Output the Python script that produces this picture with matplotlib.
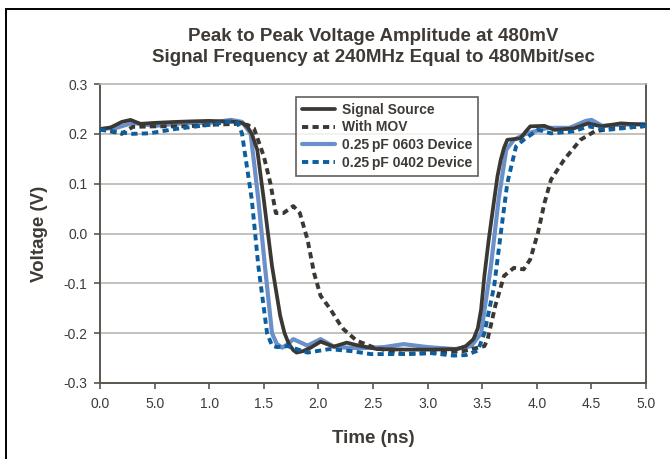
import matplotlib
matplotlib.use("Agg")
import matplotlib.pyplot as plt
from matplotlib.patches import Rectangle

plt.rcParams['font.family'] = ['Liberation Sans', 'DejaVu Sans']

# ---- data ----
src_t = [0.0, 0.1, 0.2, 0.28, 0.37, 0.5, 0.7, 0.83, 1.0, 1.25, 1.31, 1.35, 1.39, 1.44, 1.50, 1.575, 1.65, 1.69,
         1.73, 1.77, 1.80, 1.86, 1.93, 2.02, 2.14, 2.26, 2.35, 2.54, 2.8, 3.03, 3.27, 3.35, 3.42, 3.46, 3.49,
         3.52, 3.56, 3.61, 3.64, 3.67, 3.70, 3.73, 3.85, 3.90, 3.94, 4.07, 4.16, 4.34, 4.47, 4.59, 4.77, 5.0]
src_v = [0.209, 0.213, 0.224, 0.228, 0.220, 0.222, 0.224, 0.225, 0.226, 0.224, 0.221, 0.214, 0.200, 0.168, 0.068,
         -0.065, -0.165, -0.200, -0.222, -0.234, -0.239, -0.236, -0.229, -0.217, -0.227, -0.219, -0.224, -0.232,
         -0.233, -0.233, -0.232, -0.226, -0.212, -0.190, -0.152, -0.085, -0.012, 0.068, 0.115, 0.148, 0.172,
         0.188, 0.191, 0.205, 0.215, 0.216, 0.208, 0.211, 0.221, 0.215, 0.221, 0.218]

mov_t = [0.0, 0.1, 0.2, 0.30, 0.5, 0.8, 1.0, 1.25, 1.35, 1.41, 1.50, 1.56, 1.61, 1.68, 1.77, 1.83, 1.90, 1.96,
         2.02, 2.11, 2.19, 2.23, 2.35, 2.51, 2.78, 3.03, 3.33, 3.52, 3.55, 3.62, 3.70, 3.79, 3.88, 3.94, 4.01,
         4.07, 4.13, 4.25, 4.40, 4.53, 4.71, 4.98]
mov_v = [0.210, 0.205, 0.200, 0.214, 0.215, 0.215, 0.218, 0.220, 0.218, 0.211, 0.155, 0.101, 0.041, 0.041, 0.055,
         0.041, -0.012, -0.079, -0.125, -0.152, -0.180, -0.192, -0.215, -0.229, -0.242, -0.240, -0.236, -0.226,
         -0.212, -0.145, -0.085, -0.069, -0.072, -0.052, 0.001, 0.061, 0.108, 0.148, 0.188, 0.205, 0.211, 0.215]

d0603_t = [0.0, 0.15, 0.3, 0.5, 0.8, 1.0, 1.2, 1.30, 1.38, 1.45, 1.51, 1.575, 1.62, 1.67, 1.72, 1.77, 1.90, 2.02,
           2.15, 2.4, 2.6, 2.78, 3.0, 3.25, 3.40, 3.49, 3.58, 3.65, 3.72, 3.79, 3.90, 4.1, 4.3, 4.45, 4.5, 4.6,
           4.75, 5.0]
d0603_v = [0.210, 0.212, 0.222, 0.216, 0.222, 0.222, 0.228, 0.224, 0.200, 0.068, -0.065, -0.200, -0.222, -0.229,
           -0.222, -0.212, -0.225, -0.212, -0.228, -0.230, -0.228, -0.222, -0.228, -0.232, -0.226, -0.200, -0.065,
           0.068, 0.168, 0.188, 0.200, 0.212, 0.212, 0.226, 0.228, 0.216, 0.218, 0.220]

d0402_t = [0.0, 0.15, 0.3, 0.45, 0.7, 1.0, 1.2, 1.26, 1.30, 1.39, 1.45, 1.53, 1.575, 1.62, 1.72, 1.90, 2.1, 2.3,
           2.48, 2.72, 3.03, 3.24, 3.35, 3.46, 3.52, 3.61, 3.67, 3.73, 3.81, 3.88, 4.01, 4.13, 4.34, 4.47, 4.65,
           4.95, 5.0]
d0402_v = [0.208, 0.204, 0.200, 0.201, 0.210, 0.218, 0.225, 0.222, 0.201, 0.068, -0.065, -0.200, -0.225, -0.228,
           -0.226, -0.239, -0.232, -0.236, -0.242, -0.242, -0.240, -0.245, -0.244, -0.235, -0.200, -0.105, 0.000,
           0.101, 0.175, 0.188, 0.208, 0.201, 0.205, 0.215, 0.208, 0.215, 0.216]

series_labels = ["Signal Source", "With MOV", "0.25\u2009pF 0603 Device", "0.25\u2009pF 0402 Device"]
x_ticks = [0.0, 0.5, 1.0, 1.5, 2.0, 2.5, 3.0, 3.5, 4.0, 4.5, 5.0]
x_tick_labels = ["0.0", "5.0", "1.0", "1.5", "2.0", "2.5", "3.0", "3.5", "4.0", "4.5", "5.0"]
y_ticks = [0.3, 0.2, 0.1, 0.0, -0.1, -0.2, -0.3]
y_tick_labels = ["0.3", "0.2", "0.1", "0.0", "-0.1", "-0.2", "-0.3"]
title_text = "Peak to Peak Voltage Amplitude at 480mV\nSignal Frequency at 240MHz Equal to 480Mbit/sec"
x_label = "Time (ns)"
y_label = "Voltage (V)"

# ---- styling ----
txt = "#3f3a35"
c_src = "#3b3833"
c_0603 = "#6a8fc9"
c_0402 = "#0b5e9f"

fig = plt.figure(figsize=(6.7, 4.59), dpi=100)
fig.patches.append(Rectangle((6 / 670, -0.05), 1.2, 1 - 9 / 459 + 0.05, transform=fig.transFigure,
                             fill=False, edgecolor="black", linewidth=1.4))
ax = fig.add_axes([100 / 670, 1 - 383 / 459, 546 / 670, 299 / 459])

lw = 2.4
dash = (0, (1.6, 1.1))
ax.plot(d0603_t, d0603_v, color=c_0603, lw=lw + 0.6, label=series_labels[2], zorder=3,
        solid_joinstyle='round', solid_capstyle='round')
ax.plot(src_t, src_v, color=c_src, lw=lw + 0.3, label=series_labels[0], zorder=4,
        solid_joinstyle='round', solid_capstyle='round')
ax.plot(mov_t, mov_v, color=c_src, lw=lw + 0.4, linestyle=dash, label=series_labels[1], zorder=5)
ax.plot(d0402_t, d0402_v, color=c_0402, lw=lw + 0.4, linestyle=dash, label=series_labels[3], zorder=6)

ax.set_xlim(0, 5)
ax.set_ylim(-0.3, 0.3)
ax.set_xticks(x_ticks)
ax.set_xticklabels(x_tick_labels)
ax.set_yticks(y_ticks)
ax.set_yticklabels(y_tick_labels)
ax.tick_params(axis='both', colors="#5a554f", labelcolor=txt, labelsize=10, length=4, width=1.2, direction='out')
ax.tick_params(axis='x', pad=6)
ax.tick_params(axis='y', pad=5)

for yv in y_ticks[1:-1]:
    ax.axhline(yv, color="#b8b6b2", lw=1.2, zorder=1)

for side in ['left', 'bottom', 'right']:
    ax.spines[side].set_color("#5a554f")
    ax.spines[side].set_linewidth(1.4)
ax.spines['top'].set_color("#b8b6b2")
ax.spines['top'].set_linewidth(1.2)

ax.set_xlabel(x_label, fontsize=13.5, fontweight='bold', color=txt, labelpad=14)
ax.set_ylabel(y_label, fontsize=13.5, fontweight='bold', color=txt, labelpad=11)

fig.text(373 / 670, 1 - 47 / 459, title_text, ha='center', va='center', fontsize=13.5,
         fontweight='heavy', color=txt, linespacing=1.3)

h, l = ax.get_legend_handles_labels()
order = [l.index(s) for s in series_labels]
leg = ax.legend([h[i] for i in order], [l[i] for i in order], loc='upper left',
                bbox_to_anchor=((296 - 100) / 546, (383 - 97) / 299), frameon=True, fancybox=False,
                prop={'weight': 'bold', 'size': 10}, handlelength=2.4, handletextpad=0.5,
                labelspacing=0.28, borderpad=0.4, borderaxespad=0)
leg.get_frame().set_edgecolor("#3b3833")
leg.get_frame().set_linewidth(1.2)
for t in leg.get_texts():
    t.set_color(txt)
leg.set_zorder(10)

fig.savefig("out.png", dpi=100)
